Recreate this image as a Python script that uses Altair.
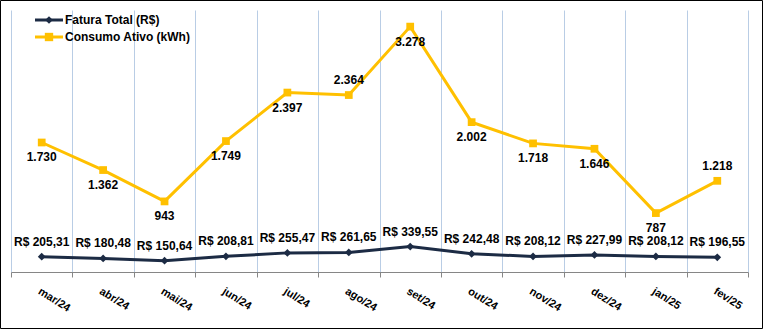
import altair as alt
import pandas as pd
import json

months = ["mar/24", "abr/24", "mai/24", "jun/24", "jul/24", "ago/24",
          "set/24", "out/24", "nov/24", "dez/24", "jan/25", "fev/25"]
fatura = [205.31, 180.48, 150.64, 208.81, 255.47, 261.65,
          339.55, 242.48, 208.12, 227.99, 208.12, 196.55]
consumo = [1730, 1362, 943, 1749, 2397, 2364, 3278, 2002, 1718, 1646, 787, 1218]
series = ["Fatura Total (R$)", "Consumo Ativo (kWh)"]
colors = ["#1C2B44", "#FFC000"]
shapes = ["diamond", "square"]
consumo_above = ["ago/24", "fev/25"]

rows = []
for m, v in zip(months, fatura):
    rows.append({"mes": m, "serie": series[0], "valor": v,
                 "rotulo": "R$ " + f"{v:.2f}".replace(".", ",")})
for m, v in zip(months, consumo):
    rows.append({"mes": m, "serie": series[1], "valor": v,
                 "rotulo": f"{v:,}".replace(",", ".")})
df = pd.DataFrame(rows)

FONT = "Liberation Sans"

x_enc = alt.X("mes:N", sort=months,
              scale=alt.Scale(paddingInner=0, paddingOuter=0),
              axis=alt.Axis(title=None, tickBand="extent", grid=True,
                            gridColor="#B9CDE5", gridWidth=1,
                            domainColor="#868686", tickColor="#868686",
                            tickSize=5, labelAngle=32, labelAlign="left",
                            labelBaseline="top", labelPadding=8,
                            labelFont=FONT, labelFontWeight="bold",
                            labelFontSize=11, labelColor="black",
                            labelOverlap=False))
y_enc = alt.Y("valor:Q", scale=alt.Scale(domain=[0, 3500], nice=False),
              axis=None)
color_enc = alt.Color("serie:N", scale=alt.Scale(domain=series, range=colors),
                      legend=None)
shape_enc = alt.Shape("serie:N", scale=alt.Scale(domain=series, range=shapes),
                      legend=None)

base = alt.Chart(df)

lines = base.mark_line(strokeWidth=3).encode(x=x_enc, y=y_enc, color=color_enc,
                                              detail="serie:N")
points = base.mark_point(filled=True, opacity=1, size=60).encode(
    x=x_enc, y=y_enc, color=color_enc, shape=shape_enc)

above_js = json.dumps(consumo_above)
fat_js = json.dumps(series[0])
con_js = json.dumps(series[1])

txt_fat = base.transform_filter(f"datum.serie == {fat_js}").mark_text(
    dy=-15, font=FONT, fontSize=12, fontWeight="bold", color="black"
).encode(x=x_enc, y=y_enc, text="rotulo:N")

txt_con_below = base.transform_filter(
    f"datum.serie == {con_js} && indexof({above_js}, datum.mes) < 0"
).mark_text(dy=15, font=FONT, fontSize=12, fontWeight="bold", color="black"
            ).encode(x=x_enc, y=y_enc, text="rotulo:N")

txt_con_above = base.transform_filter(
    f"datum.serie == {con_js} && indexof({above_js}, datum.mes) >= 0"
).mark_text(dy=-15, font=FONT, fontSize=12, fontWeight="bold", color="black"
            ).encode(x=x_enc, y=y_enc, text="rotulo:N")

# legend
leg_layers = []
for i, s in enumerate(series):
    ld = pd.DataFrame({"serie": [s]})
    yy = 10 + 17 * i
    lb = alt.Chart(ld)
    leg_layers.append(lb.mark_rule(strokeWidth=3, color=colors[i]).encode(
        x=alt.value(24), x2=alt.value(52), y=alt.value(yy)))
    leg_layers.append(lb.mark_point(filled=True, opacity=1, size=60 if i == 0 else 70,
                                    shape=shapes[i], color=colors[i]).encode(
        x=alt.value(38), y=alt.value(yy)))
    leg_layers.append(lb.mark_text(align="left", baseline="middle", font=FONT,
                                   fontSize=12, fontWeight="bold", color="black").encode(
        x=alt.value(54), y=alt.value(yy), text="serie:N"))

border = alt.Chart(pd.DataFrame({"serie": ["b"]})).mark_rect(
    fill=None, stroke="black", strokeWidth=1).encode(
    x=alt.value(-10.5), x2=alt.value(751.5), y=alt.value(-9.5), y2=alt.value(318.5))

chart = alt.layer(lines, points, txt_fat, txt_con_below, txt_con_above,
                  *leg_layers, border).properties(
    width=737, height=262,
    padding={"left": 11, "top": 10, "right": 16, "bottom": 58},
    autosize=alt.AutoSizeParams(type="none"),
    background="white",
).configure_view(stroke=None)

chart.save("out.html", embed_options={"renderer": "svg", "actions": False})
